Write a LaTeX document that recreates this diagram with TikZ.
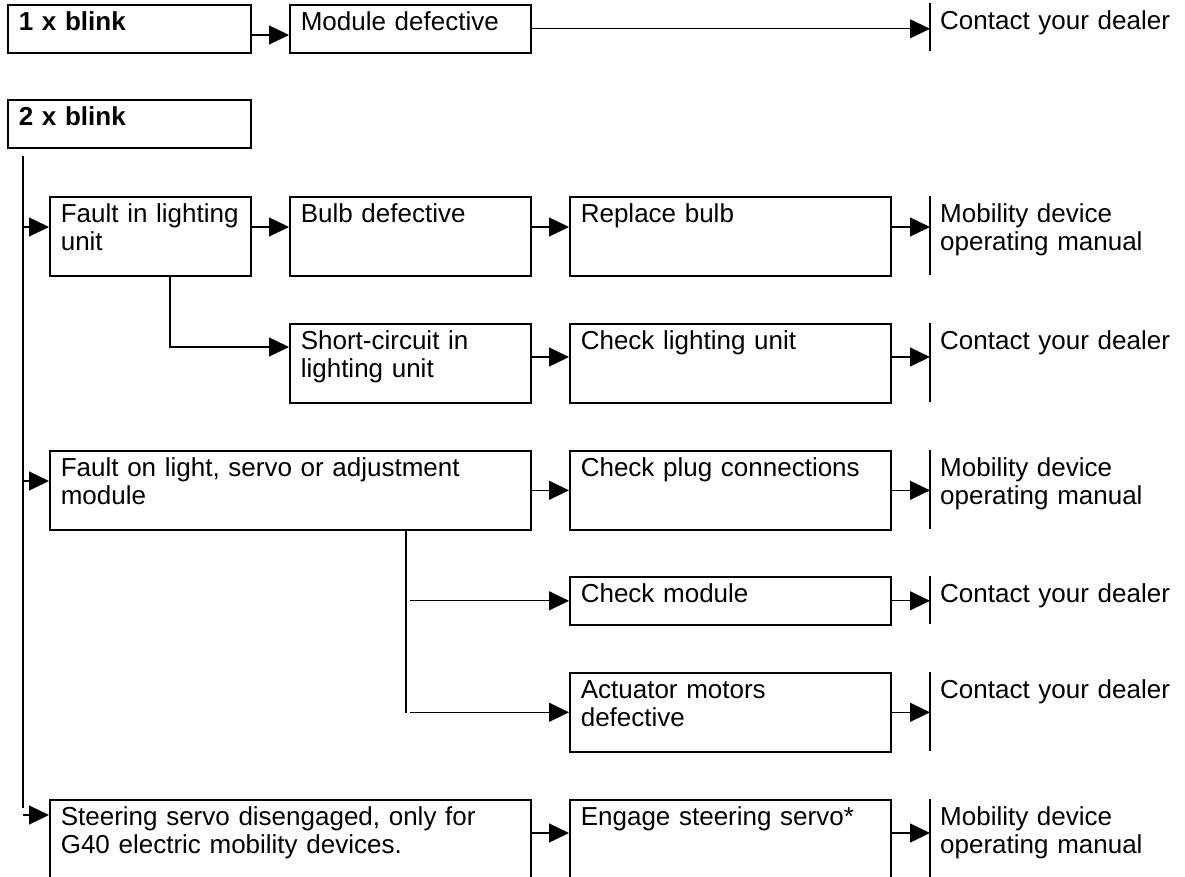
\documentclass[tikz,border=0pt]{standalone}
\usepackage{fontspec}
\setmainfont{Liberation Sans}
\usetikzlibrary{arrows.meta,calc}
\tikzset{
  box/.style={draw, line width=1.6pt, anchor=north west, inner xsep=11pt, inner ysep=7pt,
    text height=19pt, align=left, font=\fontsize{26}{28}\selectfont},
  dest/.style={anchor=north west, inner xsep=10pt, inner ysep=7pt, text height=19pt,
    text width=240pt, align=left, font=\fontsize{26}{28}\selectfont},
  flat/.style={text depth=15pt},
  tall/.style={text depth=46pt},
  conn/.style={line width=1.3pt, -{Triangle[length=20pt,width=19pt]}},
  bar/.style={line width=1.3pt},
}
\begin{document}
\begin{tikzpicture}[x=1pt,y=-1pt]
  \useasboundingbox (0,0) rectangle (1185,876);
  % 1 x blink
  \node[box, flat, text width=221pt] (b1) at (7,4) {\bfseries 1 x blink};
  \node[box, flat, text width=219pt] (md) at (289,4) {Module defective};
  \node[dest, flat] (d1) at (930,3) {Contact your dealer};
  % 2 x blink
  \node[box, flat, text width=221pt] (b2) at (7,99) {\bfseries 2 x blink};
  \node[box, tall, text width=179pt] (fil) at (49,196) {Fault in lighting\\unit};
  \node[box, tall, text width=219pt] (bd) at (289,196) {Bulb defective};
  \node[box, tall, text width=299pt] (rb) at (569,196) {Replace bulb};
  \node[dest, tall] (d3) at (930,196) {Mobility device\\operating manual};
  \node[box, tall, text width=219pt] (sc) at (289,323) {Short-circuit in\\lighting unit};
  \node[box, tall, text width=299pt] (cl) at (569,323) {Check lighting unit};
  \node[dest, tall] (d4) at (930,323) {Contact your dealer};
  \node[box, tall, text width=459pt] (fol) at (49,450) {Fault on light, servo or adjustment\\module};
  \node[box, tall, text width=299pt] (cp) at (569,450) {Check plug connections};
  \node[dest, tall] (d5) at (930,450) {Mobility device\\operating manual};
  \node[box, flat, text width=299pt] (cm) at (569,576) {Check module};
  \node[dest, flat] (d6) at (930,576) {Contact your dealer};
  \node[box, tall, text width=299pt] (am) at (569,672) {Actuator motors\\defective};
  \node[dest, tall] (d7) at (930,672) {Contact your dealer};
  \node[box, tall, text width=459pt] (ss) at (49,799) {Steering servo disengaged, only for\\G40 electric mobility devices.};
  \node[box, tall, text width=299pt] (es) at (569,799) {Engage steering servo*};
  \node[dest, tall] (d8) at (930,799) {Mobility device\\operating manual};
  \foreach \d in {d1,d3,d4,d5,d6,d7,d8}
    \draw[bar] (\d.north west) -- (\d.south west);
  % connectors
  \draw[conn] ([yshift=-31pt]b1.north east) -- ([yshift=-31pt]md.north west);
  \draw[conn, line width=1pt] (md.east) -- (md.east -| d1.west);
  \coordinate (trunk) at ([xshift=16pt,yshift=-7pt]b2.south west);
  \draw[line width=1.3pt] (trunk) -- ++(0,652);
  \draw[conn] ($(fil.north west)+(-26,31)$) -- ([yshift=-31pt]fil.north west);
  \draw[conn] ($(fol.north west)+(-26,31)$) -- ([yshift=-31pt]fol.north west);
  \draw[conn] ($(ss.north west)+(-26,16)$) -- ([yshift=-16pt]ss.north west);
  \draw[conn] ([yshift=-31pt]fil.north east) -- ([yshift=-31pt]bd.north west);
  \draw[conn] ([yshift=-31pt]bd.north east) -- ([yshift=-31pt]rb.north west);
  \draw[conn] ([yshift=-31pt]rb.north east) -- ([yshift=-31pt]d3.north west);
  \draw[conn] ([xshift=121pt]fil.south west) |- ([yshift=-24pt]sc.north west);
  \draw[conn] ([yshift=-34pt]sc.north east) -- ([yshift=-34pt]cl.north west);
  \draw[conn] ([yshift=-34pt]cl.north east) -- ([yshift=-34pt]d4.north west);
  \draw[conn] (fol.east) -- (cp.west);
  \draw[conn] (cp.east) -- (cp.east -| d5.west);
  \draw[line width=1.3pt] ([xshift=357pt]fol.south west) -- ++(0,182);
  \draw[conn] ([xshift=-159pt]cm.west) -- (cm.west);
  \draw[conn] ([xshift=-159pt]am.west) -- (am.west);
  \draw[conn] (cm.east) -- (cm.east -| d6.west);
  \draw[conn] (am.east) -- (am.east -| d7.west);
  \draw[conn] ([yshift=-34pt]ss.north east) -- ([yshift=-34pt]es.north west);
  \draw[conn] ([yshift=-34pt]es.north east) -- ([yshift=-34pt]d8.north west);
\end{tikzpicture}
\end{document}
